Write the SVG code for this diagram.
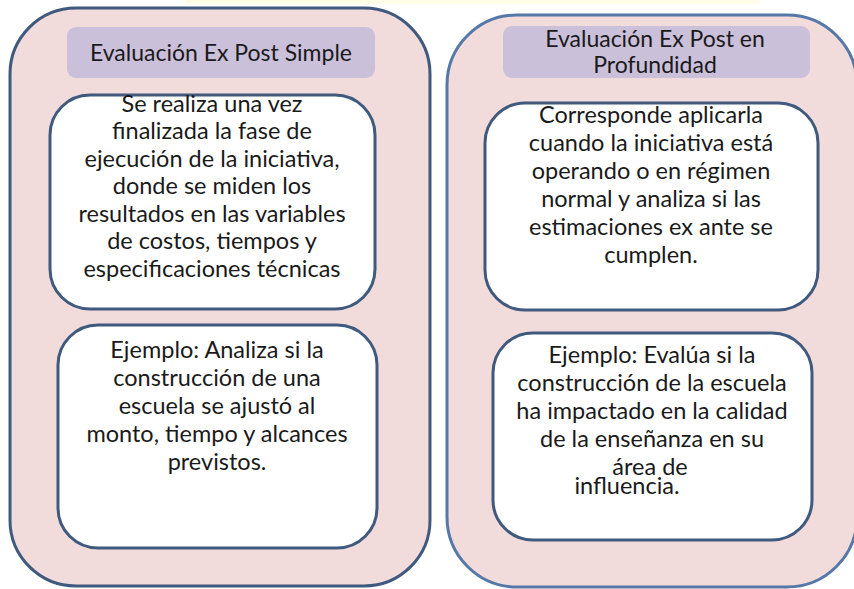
<svg xmlns="http://www.w3.org/2000/svg" width="854" height="589" viewBox="0 0 854 589">
<style>
.outerL{fill:#f2dbdb;stroke:#3f5a7e;stroke-width:3}
.outerR{fill:#f2dbdb;stroke:#5478a8;stroke-width:3}
.title{fill:#cbc0da;stroke:none}
.inner{fill:#ffffff;stroke:#3f5a7e;stroke-width:3}
text{font-family:Lato,"Liberation Sans",sans-serif;fill:#1a1a1a;text-anchor:middle}
.t{font-size:23px}
.b{font-size:23.5px}
</style>
<rect x="0" y="0" width="854" height="589" fill="#ffffff"/>
<rect x="185" y="0" width="575" height="4" fill="#fffde6"/>
<g id="panel-left">
  <rect class="outerL" x="10" y="8" width="420" height="578" rx="66" ry="66"/>
</g>
<g id="panel-right">
  <rect class="outerR" x="447" y="15" width="410" height="572" rx="70" ry="70"/>
</g>
<g id="title-left">
  <rect class="title" x="67" y="27" width="308" height="51" rx="9" ry="9"/>
  <text class="t" x="221" y="61">Evaluación Ex Post Simple</text>
</g>
<g id="title-right">
  <rect class="title" x="503" y="26" width="307" height="52" rx="9" ry="9"/>
  <text class="t" x="655" y="47">Evaluación Ex Post en</text>
  <text class="t" x="655" y="73">Profundidad</text>
</g>
<g id="desc-left">
  <rect class="inner" x="50" y="95" width="325" height="214" rx="40" ry="40"/>
  <text class="b" x="212" y="112">Se realiza una vez</text>
  <text class="b" x="212" y="139">finalizada la fase de</text>
  <text class="b" x="212" y="167">ejecución de la iniciativa,</text>
  <text class="b" x="212" y="194">donde se miden los</text>
  <text class="b" x="212" y="222">resultados en las variables</text>
  <text class="b" x="212" y="249">de costos, tiempos y</text>
  <text class="b" x="212" y="277">especificaciones técnicas</text>
</g>
<g id="example-left">
  <rect class="inner" x="58" y="325" width="319" height="223" rx="40" ry="40"/>
  <text class="b" x="217" y="358">Ejemplo: Analiza si la</text>
  <text class="b" x="217" y="386">construcción de una</text>
  <text class="b" x="217" y="414">escuela se ajustó al</text>
  <text class="b" x="217" y="442">monto, tiempo y alcances</text>
  <text class="b" x="217" y="470">previstos.</text>
</g>
<g id="desc-right">
  <rect class="inner" x="485" y="103" width="333" height="207" rx="40" ry="40"/>
  <text class="b" x="651" y="123">Corresponde aplicarla</text>
  <text class="b" x="651" y="151">cuando la iniciativa está</text>
  <text class="b" x="651" y="179">operando o en régimen</text>
  <text class="b" x="651" y="207">normal y analiza si las</text>
  <text class="b" x="651" y="235">estimaciones ex ante se</text>
  <text class="b" x="651" y="263">cumplen.</text>
</g>
<g id="example-right">
  <rect class="inner" x="493" y="333" width="319" height="207" rx="40" ry="40"/>
  <text class="b" x="652" y="363">Ejemplo: Evalúa si la</text>
  <text class="b" x="652" y="391">construcción de la escuela</text>
  <text class="b" x="652" y="419">ha impactado en la calidad</text>
  <text class="b" x="652" y="447">de la enseñanza en su</text>
  <text class="b" x="650" y="475">área de</text>
  <text class="b" x="627" y="494">influencia.</text>
</g>
<g id="connectors"></g>
</svg>
